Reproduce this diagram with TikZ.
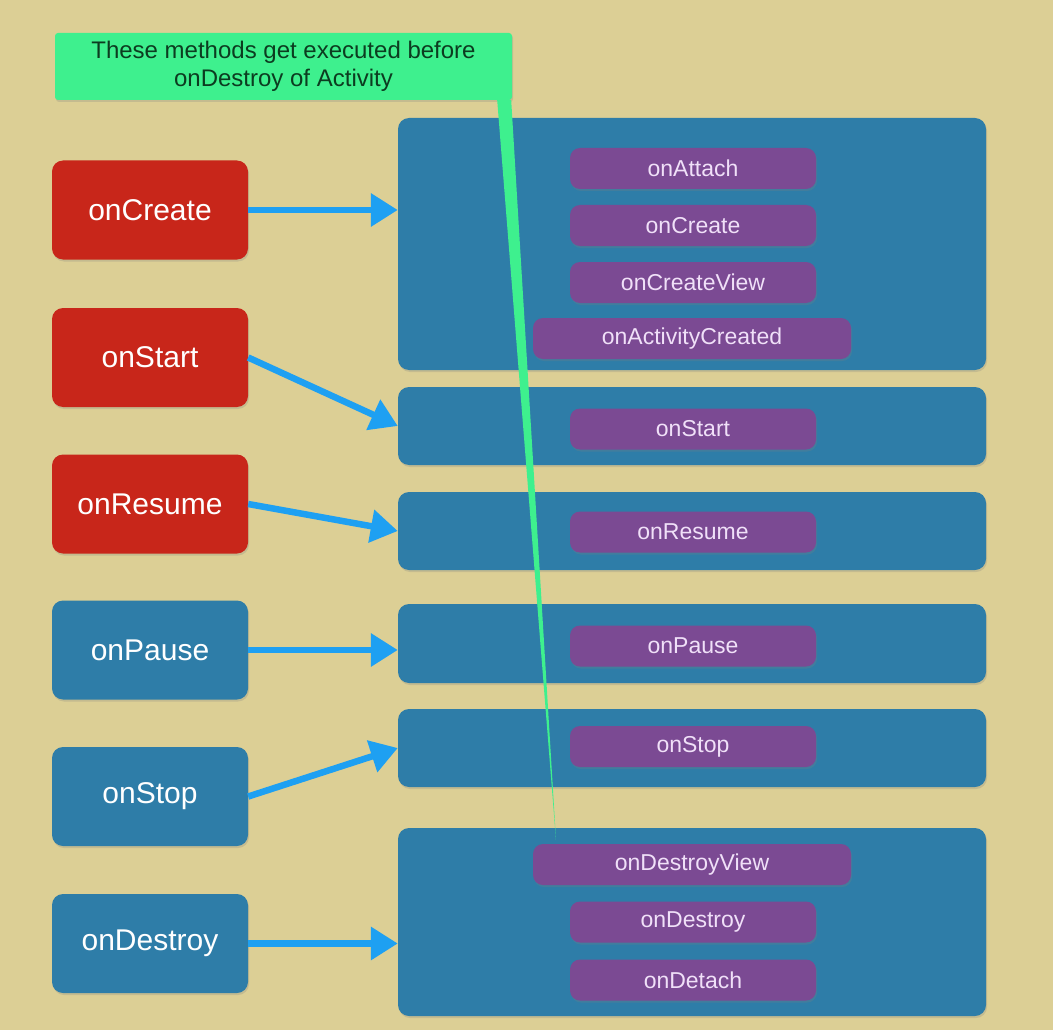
\documentclass[tikz,border=0pt]{standalone}
\usepackage{fontspec}
\setmainfont{Liberation Sans}
\usetikzlibrary{arrows.meta, positioning, shadows}

\definecolor{khaki}{RGB}{220,207,149}
\definecolor{actred}{RGB}{200,38,26}
\definecolor{fragblue}{RGB}{46,125,168}
\definecolor{methpurple}{RGB}{123,74,147}
\definecolor{notegreen}{RGB}{62,240,142}
\definecolor{flowblue}{RGB}{30,160,242}
\definecolor{notetext}{RGB}{12,60,32}
\definecolor{pilltext}{RGB}{240,224,248}

\begin{document}
\begin{tikzpicture}[
    x=1pt, y=-1pt,
    shade/.style={drop shadow={opacity=0.25, shadow xshift=1pt, shadow yshift=-2pt}},
    actbox/.style={rectangle, rounded corners=11pt, minimum width=196pt, minimum height=99pt,
        text=white, font=\fontsize{30}{36}\selectfont, shade},
    panel/.style={rectangle, rounded corners=11pt, fill=fragblue, minimum width=588pt, shade},
    pill/.style={rectangle, rounded corners=10pt, fill=methpurple, minimum width=246pt,
        minimum height=41pt, text=pilltext, font=\fontsize{23}{28}\selectfont, shade},
    widepill/.style={pill, minimum width=318pt},
    flow/.style={-{Triangle[length=27pt, width=32pt]}, flowblue, line width=6.5pt},
    note/.style={rectangle, rounded corners=3pt, fill=notegreen, minimum width=457pt, minimum height=67pt,
        align=center, text=notetext, font=\fontsize{24}{28}\selectfont, shade}
]

% Background
\fill[white] (0,0) rectangle (1061,1030);
\fill[khaki] (0,0) rectangle (1053,1030);
\useasboundingbox (0,0) rectangle (1061,1030);

% Activity callbacks
\node[actbox, fill=actred] (cre) at (150,210) {onCreate};
\node[actbox, fill=actred] (sta) at (150,357.5) {onStart};
\node[actbox, fill=actred] (res) at (150,504) {onResume};
\node[actbox, fill=fragblue] (pau) at (150,650) {onPause};
\node[actbox, fill=fragblue] (sto) at (150,796.5) {onStop};
\node[actbox, fill=fragblue] (des) at (150,943.5) {onDestroy};

% Fragment panels
\node[panel, minimum height=252pt] (panelA) at (692,244) {};
\node[panel, minimum height=78pt] (panelB) at (692,426) {};
\node[panel, minimum height=78pt] (panelC) at (692,531) {};
\node[panel, minimum height=79pt] (panelD) at (692,643.5) {};
\node[panel, minimum height=78pt] (panelE) at (692,748) {};
\node[panel, minimum height=188pt] (panelF) at (692,922) {};

% Fragment methods
\node[pill] (fattach) at (693,168.5) {onAttach};
\node[pill] (fcreate) at (693,225.5) {onCreate};
\node[pill] (fview) at (693,282.5) {onCreateView};
\node[widepill] (factivity) at (692,338.5) {onActivityCreated};
\node[pill] (fstart) at (693,429) {onStart};
\node[pill] (fresume) at (693,532) {onResume};
\node[pill] (fpause) at (693,646) {onPause};
\node[pill] (fstop) at (693,746.5) {onStop};
\node[widepill] (fdview) at (692,864.5) {onDestroyView};
\node[pill] (fdestroy) at (693,922) {onDestroy};
\node[pill] (fdetach) at (693,980) {onDetach};

% Arrows
\draw[flow] (cre.east) -- (cre.east -| panelA.west);
\draw[flow] (sta.east) -- (panelB.west);
\draw[flow] (res.east) -- (panelC.west);
\draw[flow] (pau.east) -- (pau.east -| panelD.west);
\draw[flow] (sto.east) -- (panelE.west);
\draw[flow] (des.east) -- (des.east -| panelF.west);

% Callout
\node[note] (remark) at (283.5,66.5) {These methods get executed before\\onDestroy of Activity};
\coordinate (tip) at (556,840);
\fill[notegreen] ([xshift=-15pt]remark.south east) -- ([xshift=-1pt]remark.south east) -- (tip) -- cycle;

\end{tikzpicture}
\end{document}
